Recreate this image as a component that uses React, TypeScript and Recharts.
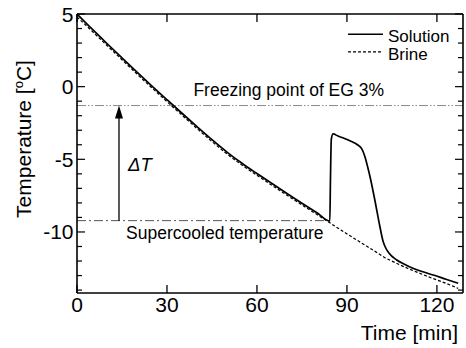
import React from 'react';
import { LineChart, Line, XAxis, YAxis, ReferenceLine, ReferenceDot, Legend, Label } from 'recharts';

const FONT = '"Liberation Sans", Arial, Helvetica, sans-serif';

// ---- data ----
const solutionTime = [0, 5, 10, 15, 20, 25, 30, 35, 40, 45, 50, 55, 60, 65, 70, 75, 80, 84.3, 84.5, 84.8, 85.4, 87, 89, 91.5, 93.5, 95, 96, 97, 97.7, 99.3, 101, 102, 102.7, 104, 106.6, 109, 112, 115, 118.8, 123, 127.1];
const solutionTemp = [5.0, 3.97, 2.97, 1.98, 1.0, 0.04, -0.9, -1.83, -2.75, -3.65, -4.5, -5.27, -5.98, -6.67, -7.35, -8.02, -8.68, -9.25, -6.5, -3.6, -3.25, -3.4, -3.55, -3.78, -4.0, -4.3, -4.82, -5.6, -6.2, -7.8, -9.64, -10.6, -11.0, -11.45, -11.93, -12.2, -12.5, -12.72, -12.96, -13.25, -13.53];

const brineTime = [0, 5, 10, 15, 20, 25, 30, 35, 40, 45, 50, 55, 60, 65, 70, 75, 80, 84, 88, 92, 96, 100, 102.5, 106, 110, 114, 118, 122, 127.1];
const brineTemp = [4.8, 3.82, 2.83, 1.85, 0.87, -0.09, -1.03, -1.96, -2.88, -3.78, -4.63, -5.4, -6.1, -6.79, -7.47, -8.14, -8.8, -9.33, -9.87, -10.39, -10.9, -11.42, -11.75, -12.1, -12.48, -12.82, -13.15, -13.45, -13.88];

const seriesNames = ['Solution', 'Brine'];

const xTicks = [0, 30, 60, 90, 120];
const yTicks = [5, 4, 3, 2, 1, 0, -1, -2, -3, -4, -5, -6, -7, -8, -9, -10, -11, -12, -13, -14];
const yLabelTicks = [5, 0, -5, -10];

const freezingPoint = -1.3;
const supercooledTemp = -9.22;
const nucleationTime = 84.3;
const arrowTime = 14;

const annotationFreezing = { t: 70.6, T: -0.64, text: 'Freezing point of EG 3%' };
const annotationSupercooled = { t: 49.3, T: -10.5, text: 'Supercooled temperature' };
const annotationDelta = { t: 17, T: -5.77, text: 'ΔT' };

const solutionData = solutionTime.map((t, i) => ({ t, T: solutionTemp[i] }));
const brineData = brineTime.map((t, i) => ({ t, T: brineTemp[i] }));

// ---- ticks ----
const BottomTick = (p: any) => (
  <g>
    <line x1={p.x} y1={p.y} x2={p.x} y2={p.y - 8} stroke="#000" strokeWidth={1.3} />
    <text x={p.x} y={p.y + 19} textAnchor="middle" fontSize={21} fontFamily={FONT} fill="#000">
      {p.payload.value}
    </text>
  </g>
);
const TopTick = (p: any) => (
  <line x1={p.x} y1={p.y} x2={p.x} y2={p.y + 8} stroke="#000" strokeWidth={1.3} />
);
const LeftTick = (p: any) => {
  const major = yLabelTicks.includes(p.payload.value);
  return (
    <g>
      <line x1={p.x} y1={p.y} x2={p.x + (major ? 8 : 5)} y2={p.y} stroke="#000" strokeWidth={1.2} />
      {major && (
        <text x={p.x - 3.5} y={p.y + 7.5} textAnchor="end" fontSize={21} fontFamily={FONT} fill="#000">
          {p.payload.value}
        </text>
      )}
    </g>
  );
};
const RightTick = (p: any) => {
  const major = yLabelTicks.includes(p.payload.value);
  return <line x1={p.x} y1={p.y} x2={p.x - (major ? 8 : 5)} y2={p.y} stroke="#000" strokeWidth={1.2} />;
};

const YTitle = (p: any) => {
  const vb = p.viewBox;
  const x = vb.x + vb.width - 46.5;
  const y = vb.y + 125;
  return (
    <text x={x} y={y} transform={`rotate(-90, ${x}, ${y})`} textAnchor="middle" fontSize={21} fontFamily={FONT} fill="#000">
      Temperature [<tspan fontSize={13} dy={-8}>o</tspan>
      <tspan dy={8}>C]</tspan>
    </text>
  );
};
const XTitle = (p: any) => {
  const vb = p.viewBox;
  return (
    <text x={vb.x + vb.width - 5} y={vb.y + 47} textAnchor="end" fontSize={21} fontFamily={FONT} fill="#000">
      Time [min]
    </text>
  );
};

const ArrowShape = (p: any) => {
  const { x1, y1, x2, y2 } = p;
  const top = Math.min(y1, y2);
  const bottom = Math.max(y1, y2);
  const x = x1;
  return (
    <g>
      <line x1={x} y1={bottom} x2={x} y2={top + 10} stroke="#000" strokeWidth={1.3} />
      <polygon points={`${x},${top} ${x - 4},${top + 13} ${x + 4},${top + 13}`} fill="#000" />
    </g>
  );
};

const textShape = (text: string, size: number, italic = false, anchor: 'middle' | 'start' = 'middle') => (p: any) => (
  <text x={p.cx} y={p.cy} textAnchor={anchor} fontSize={size} fontStyle={italic ? 'italic' : 'normal'} fontFamily={FONT} fill="#000">
    {text}
  </text>
);

const renderLegend = (props: any) => {
  const items = props.payload || [];
  return (
    <svg width={125} height={46} style={{ display: 'block' }}>
      {items.map((it: any, i: number) => (
        <g key={i}>
          <line
            x1={8}
            x2={43}
            y1={12.3 + i * 17.6}
            y2={12.3 + i * 17.6}
            stroke="#000"
            strokeWidth={i === 0 ? 1.6 : 1.2}
            strokeDasharray={i === 0 ? undefined : '3 2'}
          />
          <text x={48} y={19.5 + i * 18.5} fontSize={17} fontFamily={FONT} fill="#000">
            {it.value}
          </text>
        </g>
      ))}
    </svg>
  );
};

export default function App() {
  return (
    <div style={{ position: 'absolute', left: 0, top: 0, width: 466, height: 348, background: '#fff' }}>
      <LineChart width={466} height={348} margin={{ top: 13, right: 2, bottom: 54, left: 76 }}>
        <XAxis
          xAxisId="b"
          dataKey="t"
          type="number"
          domain={[0, 128.7]}
          ticks={xTicks}
          interval={0}
          height={1}
          tickSize={0}
          tickMargin={0}
          tickLine={false}
          axisLine={{ stroke: '#000', strokeWidth: 1.6 }}
          tick={BottomTick}
          allowDataOverflow
        >
          <Label content={XTitle} />
        </XAxis>
        <XAxis
          xAxisId="t"
          orientation="top"
          dataKey="t"
          type="number"
          domain={[0, 128.7]}
          ticks={xTicks}
          interval={0}
          height={1}
          tickSize={0}
          tickMargin={0}
          tickLine={false}
          axisLine={{ stroke: '#000', strokeWidth: 1.6 }}
          tick={TopTick}
          allowDataOverflow
        />
        <YAxis
          yAxisId="l"
          type="number"
          domain={[-14.2, 5]}
          ticks={yTicks}
          interval={0}
          width={1}
          tickSize={0}
          tickMargin={0}
          tickLine={false}
          axisLine={{ stroke: '#000', strokeWidth: 1.6 }}
          tick={LeftTick}
          allowDataOverflow
        >
          <Label content={YTitle} />
        </YAxis>
        <YAxis
          yAxisId="r"
          orientation="right"
          type="number"
          domain={[-14.2, 5]}
          ticks={yTicks}
          interval={0}
          width={1}
          tickSize={0}
          tickMargin={0}
          tickLine={false}
          axisLine={{ stroke: '#000', strokeWidth: 1.6 }}
          tick={RightTick}
          allowDataOverflow
        />
        <ReferenceLine
          xAxisId="b"
          yAxisId="l"
          y={freezingPoint}
          stroke="#8a8a8a"
          strokeWidth={1}
          strokeDasharray="9 2 1.5 2 1.5 2"
        />
        <ReferenceLine
          xAxisId="b"
          yAxisId="l"
          segment={[{ x: 0, y: supercooledTemp }, { x: nucleationTime, y: supercooledTemp }]}
          stroke="#555"
          strokeWidth={1}
          strokeDasharray="9 3 2 3"
        />
        <ReferenceLine
          xAxisId="b"
          yAxisId="l"
          segment={[{ x: arrowTime, y: supercooledTemp }, { x: arrowTime, y: freezingPoint }]}
          stroke="#000"
          shape={ArrowShape}
        />
        <ReferenceDot xAxisId="b" yAxisId="l" x={annotationFreezing.t} y={annotationFreezing.T} r={0} shape={textShape(annotationFreezing.text, 17.5)} />
        <ReferenceDot xAxisId="b" yAxisId="l" x={annotationSupercooled.t} y={annotationSupercooled.T} r={0} shape={textShape(annotationSupercooled.text, 17.5)} />
        <ReferenceDot xAxisId="b" yAxisId="l" x={annotationDelta.t} y={annotationDelta.T} r={0} shape={textShape(annotationDelta.text, 18.5, true, 'start')} />
        <Line
          xAxisId="b"
          yAxisId="l"
          data={brineData}
          dataKey="T"
          name={seriesNames[1]}
          stroke="#000"
          strokeWidth={1.2}
          strokeDasharray="3 2"
          dot={false}
          isAnimationActive={false}
          type="monotone"
        />
        <Line
          xAxisId="b"
          yAxisId="l"
          data={solutionData}
          dataKey="T"
          name={seriesNames[0]}
          stroke="#000"
          strokeWidth={1.7}
          dot={false}
          isAnimationActive={false}
          type="monotone"
        />
        <Legend
          layout="vertical"
          align="center"
          verticalAlign="middle"
          content={(props: any) => {
            const payload = [...(props.payload || [])].sort(
              (a: any, b: any) => seriesNames.indexOf(a.value) - seriesNames.indexOf(b.value)
            );
            return renderLegend({ payload });
          }}
          wrapperStyle={{ position: 'absolute', left: 340, top: 22, width: 125, height: 46 }}
        />
      </LineChart>
    </div>
  );
}
